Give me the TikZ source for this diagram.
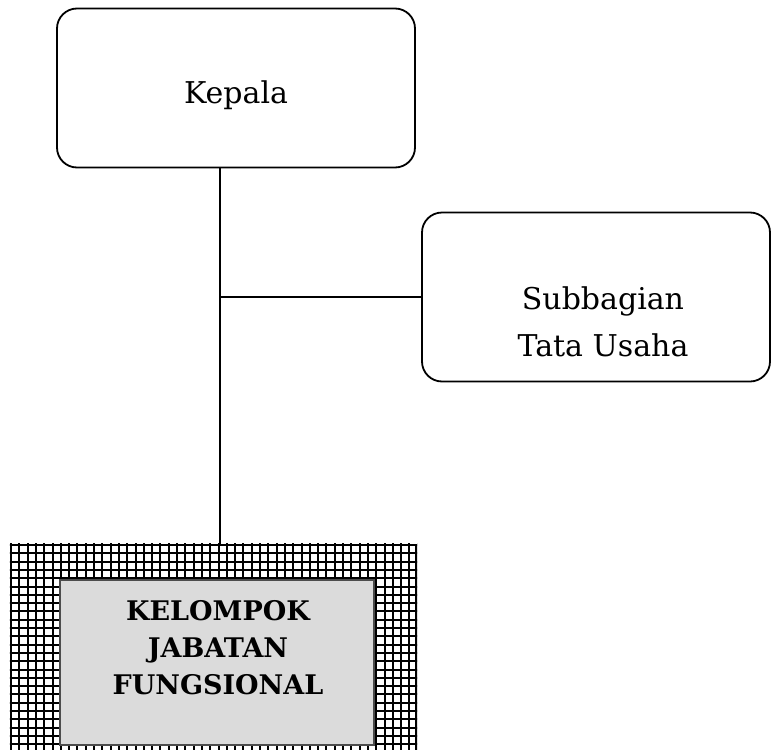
\documentclass[tikz,border=0pt]{standalone}
\usepackage{fontspec}
\setmainfont{DejaVu Serif}

\begin{document}
\begin{tikzpicture}[x=0.5pt, y=-0.5pt,
		kotak/.style={draw, line width=0.9pt, rounded corners=10pt},
		teks/.style={align=center, font=\fontsize{15}{23.5}\selectfont},
		tebal/.style={align=center, font=\bfseries\fontsize{13.5}{18.5}\selectfont},
		kisi/.style={line width=1pt}]
				\useasboundingbox (0,0) rectangle (772,750);
				
				% kotak-kotak
				\node[kotak, minimum width=179pt, minimum height=79.5pt] (kepala) at (236,88) {};
				\node[kotak, minimum width=174pt, minimum height=84.5pt] (subbag) at (596,297) {};
				\node[draw, line width=1.1pt, minimum width=202.5pt, minimum height=107.5pt] (kjf) at (213.5,652.5) {};
				
				% arsiran kisi
				\begin{scope}
					\clip (kjf.north west) rectangle (kjf.south east);
					\foreach \i in {0,...,49}
						\draw[kisi] (11+8.3*\i,540) -- (11+8.3*\i,770);
					\foreach \j in {0,...,26}
						\draw[kisi] (5,545+8.3*\j) -- (425,545+8.3*\j);
				\end{scope}
				\node[draw=black!70, fill=black!14, line width=0.7pt, minimum width=157pt, minimum height=82.5pt] (kotakjf) at (217,662.5) {};
				
				% teks
				\node[teks] (tkepala) at (236,95) {Kepala};
				\node[teks] (tsubbag) at (603,322) {Subbagian\\Tata Usaha};
				\node[tebal] (tkjf) at (218,648) {KELOMPOK\\JABATAN\\FUNGSIONAL};
				
				% garis
				\coordinate (cabang) at (220,297);
				\draw[line width=0.75pt] (kepala.south -| cabang) -- (cabang) -- (kjf.north -| cabang);
				\draw[line width=0.75pt] (cabang) -- (subbag.west);
\end{tikzpicture}
\end{document}
